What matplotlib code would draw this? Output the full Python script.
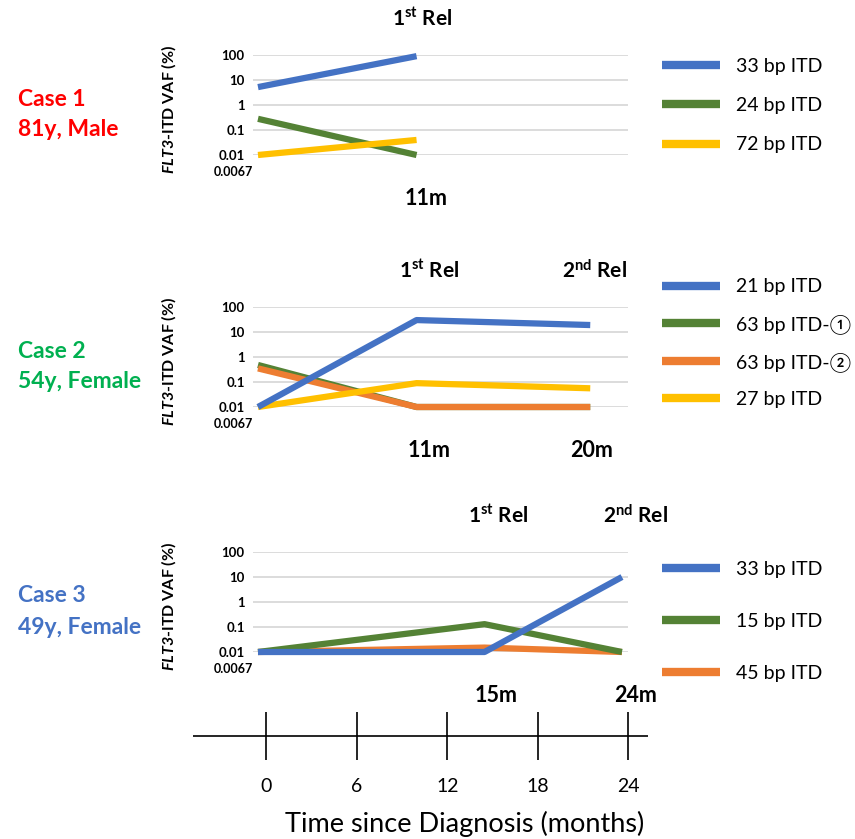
import numpy as np
import matplotlib
matplotlib.use('Agg')
import matplotlib.pyplot as plt

plt.rcParams['font.family'] = ['Lato', 'Noto Sans CJK JP', 'DejaVu Sans']
plt.rcParams['mathtext.fontset'] = 'custom'
plt.rcParams['mathtext.rm'] = 'Lato'
plt.rcParams['mathtext.bf'] = 'Lato:bold'
plt.rcParams['mathtext.it'] = 'Lato:italic'
plt.rcParams['mathtext.bfit'] = 'Lato:italic:bold'

BLUE = '#4472C4'
GREEN = '#548235'
ORANGE = '#ED7D31'
YELLOW = '#FFC000'

# positions of the sampling points on the panel time axis (months)
case1_x = [0, 10.5]
case1_33bp = [5.2, 90]
case1_24bp = [0.28, 0.01]
case1_72bp = [0.01, 0.04]

case2_x = [0, 10.5, 22]
case2_21bp = [0.01, 30, 19]
case2_63bp_1 = [0.48, 0.01, 0.01]
case2_63bp_2 = [0.35, 0.01, 0.01]
case2_27bp = [0.01, 0.09, 0.056]

case3_x = [0, 15, 24.1]
case3_33bp = [0.01, 0.01, 10]
case3_15bp = [0.01, 0.13, 0.01]
case3_45bp = [0.01, 0.015, 0.01]

yticks = [0.01, 0.1, 1, 10, 100]
ytick_labels = ['0.01', '0.1', '1', '10', '100']
time_ticks = [0, 6, 12, 18, 24]

W, H = 855, 839
fig = plt.figure(figsize=(W/100, H/100), dpi=100)

def box(l, t, r, b):
    return [l/W, 1 - b/H, (r - l)/W, (b - t)/H]

def panel(top, x, series, order, events, case_txt, age_txt, case_col, leg_y, leg_sp):
    ax = fig.add_axes(box(253, top, 628, top + 100))
    ax.set_yscale('log')
    ax.set_ylim(0.01, 100)
    ax.set_xlim(-0.33, 24.5)
    for s in ax.spines.values():
        s.set_visible(False)
    ax.set_xticks([])
    ax.set_yticks(yticks)
    ax.set_yticklabels(ytick_labels, fontweight='bold', fontsize=9.5)
    ax.yaxis.set_minor_locator(matplotlib.ticker.NullLocator())
    ax.tick_params(axis='y', length=0, pad=6)
    ax.grid(axis='y', color='#D9D9D9', lw=1.3)
    lines = {}
    for vals, col, lab, z in series:
        ln, = ax.plot(x, vals, color=col, lw=4.5, label=lab, clip_on=False,
                      solid_capstyle='butt', zorder=z)
        lines[lab] = ln
    ax.annotate('0.0067', xy=(0, 0.01), xycoords=('axes fraction', 'data'),
                xytext=(0, -12), textcoords='offset points', ha='right',
                va='center', fontsize=9, fontweight='bold')
    ax.set_ylabel(r'$\mathbfit{FLT3}$-ITD VAF (%)', fontsize=11.5,
                  fontweight='bold')
    ax.yaxis.set_label_coords(-0.2, 0.46)
    for i, up, down, dx_up, dx_down in events:
        if up:
            ax.annotate(up, xy=(x[i], 1), xycoords=('data', 'axes fraction'),
                        xytext=(dx_up, 26), textcoords='offset points', ha='center',
                        va='center', fontsize=15, fontweight='bold')
        ax.annotate(down, xy=(x[i], 0), xycoords=('data', 'axes fraction'),
                    xytext=(dx_down, -31), textcoords='offset points', ha='center',
                    va='center', fontsize=15.5, fontweight='bold')
    fig.text(18/W, 1 - (top + 44)/H, case_txt, color=case_col, fontsize=16.5,
             fontweight='bold', va='center')
    fig.text(18/W, 1 - (top + 75)/H, age_txt, color=case_col, fontsize=16.5,
             fontweight='bold', va='center')
    leg = fig.legend(handles=[lines[k] for k in order],
                     loc='center left', bbox_to_anchor=(662/W, 1 - leg_y/H),
                     frameon=False, fontsize=14, handlelength=3.0,
                     handletextpad=0.8, labelspacing=leg_sp, borderpad=0,
                     borderaxespad=0)
    for l in leg.get_lines():
        l.set_linewidth(6)
    return ax

s1 = [(case1_33bp, BLUE, '33 bp ITD', 3), (case1_24bp, GREEN, '24 bp ITD', 2),
      (case1_72bp, YELLOW, '72 bp ITD', 4)]
panel(55, case1_x, s1, ['33 bp ITD', '24 bp ITD', '72 bp ITD'],
      [(1, r'1$^{\mathbf{st}}$ Rel', '11m', 4, 7)],
      'Case 1', '81y, Male', '#FF0000', 105.5, 1.15)

s2 = [(case2_21bp, BLUE, '21 bp ITD', 5), (case2_63bp_1, GREEN, '63 bp ITD-①', 2),
      (case2_63bp_2, ORANGE, '63 bp ITD-②', 3), (case2_27bp, YELLOW, '27 bp ITD', 4)]
panel(307, case2_x, s2, ['21 bp ITD', '63 bp ITD-①', '63 bp ITD-②', '27 bp ITD'],
      [(1, r'1$^{\mathbf{st}}$ Rel', '11m', 9, 9),
       (2, r'2$^{\mathbf{nd}}$ Rel', '20m', 3, 1)],
      'Case 2', '54y, Female', '#00B050', 343, 0.95)

s3 = [(case3_33bp, BLUE, '33 bp ITD', 5), (case3_15bp, GREEN, '15 bp ITD', 3),
      (case3_45bp, ORANGE, '45 bp ITD', 2)]
panel(552, case3_x, s3, ['33 bp ITD', '15 bp ITD', '45 bp ITD'],
      [(1, r'1$^{\mathbf{st}}$ Rel', '15m', 10, 8),
       (2, r'2$^{\mathbf{nd}}$ Rel', '24m', 10, 10)],
      'Case 3', '49y, Female', '#4472C4', 621, 1.8)

# timeline
tax = fig.add_axes(box(193, 712, 648, 760))
tax.set_xlim(-4.84, 25.3)
tax.set_ylim(0, 1)
for s in tax.spines.values():
    s.set_visible(False)
tax.axhline(0.5, color='black', lw=1.2)
tax.vlines(time_ticks, 0, 1, color='black', lw=1.2)
tax.set_yticks([])
tax.set_xticks(time_ticks)
tax.set_xticklabels([str(t) for t in time_ticks], fontsize=14)
tax.tick_params(axis='x', length=0, pad=13)
tax.set_xlabel('Time since Diagnosis (months)', fontsize=19.5)
tax.xaxis.set_label_coords((465 - 193) / (648 - 193), -1.06)

fig.savefig('out.png', dpi=100)
